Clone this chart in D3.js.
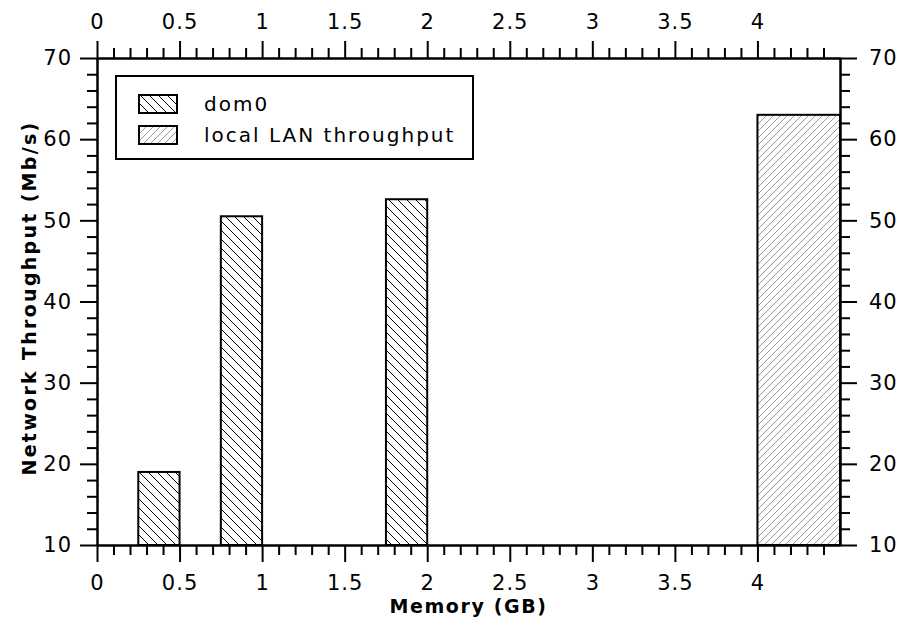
<!DOCTYPE html>
<html>
<head>
<meta charset="utf-8">
<script src="https://cdn.jsdelivr.net/npm/d3@7"></script>
<style>
  body { margin: 0; background: #fff; }
  text { font-family: "DejaVu Sans", sans-serif; fill: #000; }
  .axis path, .axis line { stroke: #000; stroke-width: 2; }
  .title { font-size: 19px; font-weight: bold; letter-spacing: 1.6px; }
</style>
</head>
<body>
<div id="viz"></div>
<script>
// data
var seriesNames = ["dom0", "local LAN throughput"];
var dom0Left = [0.25, 0.75, 1.75];
var dom0Right = [0.5, 1, 2];
var dom0Values = [19, 50.5, 52.6];
var lanLeft = [4];
var lanRight = [4.5];
var lanValues = [63];
var xMajorTicks = [0, 0.5, 1, 1.5, 2, 2.5, 3, 3.5, 4];
var yMajorTicks = [10, 20, 30, 40, 50, 60, 70];

var width = 900, height = 625;
var m = {left: 97, right: 60, top: 58, bottom: 80};

var svg = d3.select("#viz").append("svg").attr("width", width).attr("height", height);

var x = d3.scaleLinear().domain([0, 4.5]).range([m.left, width - m.right]);
var y = d3.scaleLinear().domain([10, 70]).range([height - m.bottom, m.top]);

var xMinor = d3.range(0, 45).map(function(i){ return i / 10; }).filter(function(v){ return Math.round(v * 10) % 5 != 0; });
var yMinor = d3.range(10, 70, 2).filter(function(v){ return v % 10 != 0; });

// hatch patterns
var defs = svg.append("defs");
defs.append("pattern")
    .attr("id", "hatch-dom0")
    .attr("patternUnits", "userSpaceOnUse")
    .attr("width", 9).attr("height", 9)
  .append("path")
    .attr("d", "M0,0 L9,9 M-9,0 L0,9 M9,0 L18,9 M0,-9 L9,0 M0,9 L9,18")
    .attr("stroke", "#000").attr("stroke-width", 1);
defs.append("pattern")
    .attr("id", "hatch-lan")
    .attr("patternUnits", "userSpaceOnUse")
    .attr("width", 7).attr("height", 7)
  .append("path")
    .attr("d", "M0,7 L7,0 M-7,7 L0,0 M7,7 L14,0 M0,14 L7,7 M0,0 L7,-7")
    .attr("stroke", "#9a9a9a").attr("stroke-width", 1);

// bars
var dom0 = dom0Values.map(function(v, i){ return {x0: dom0Left[i], x1: dom0Right[i], v: v}; });
var lan = lanValues.map(function(v, i){ return {x0: lanLeft[i], x1: lanRight[i], v: v}; });

function drawBars(data, fill){
  svg.append("g").selectAll("rect")
    .data(data)
    .enter().append("rect")
      .attr("x", function(d){ return x(d.x0); })
      .attr("y", function(d){ return y(d.v); })
      .attr("width", function(d){ return x(d.x1) - x(d.x0); })
      .attr("height", function(d){ return y(10) - y(d.v); })
      .attr("fill", fill)
      .attr("stroke", "#000")
      .attr("stroke-width", 2);
}
drawBars(dom0, "url(#hatch-dom0)");
drawBars(lan, "url(#hatch-lan)");

// axes: minor ticks first, then major with labels
function addAxis(axis, tr){
  return svg.append("g").attr("class", "axis").attr("transform", tr).call(axis);
}
var fmt = function(d){ return d3.format("~g")(d); };

addAxis(d3.axisBottom(x).tickValues(xMinor).tickSize(10).tickSizeOuter(0).tickFormat(""), "translate(0," + y(10) + ")");
addAxis(d3.axisTop(x).tickValues(xMinor).tickSize(10).tickSizeOuter(0).tickFormat(""), "translate(0," + y(70) + ")");
addAxis(d3.axisLeft(y).tickValues(yMinor).tickSize(10).tickSizeOuter(0).tickFormat(""), "translate(" + x(0) + ",0)");
addAxis(d3.axisRight(y).tickValues(yMinor).tickSize(10).tickSizeOuter(0).tickFormat(""), "translate(" + x(4.5) + ",0)");

addAxis(d3.axisBottom(x).tickValues(xMajorTicks).tickSize(17).tickSizeOuter(0).tickPadding(13).tickFormat(fmt), "translate(0," + y(10) + ")");
addAxis(d3.axisTop(x).tickValues(xMajorTicks).tickSize(17).tickSizeOuter(0).tickPadding(12).tickFormat(fmt), "translate(0," + y(70) + ")");
addAxis(d3.axisLeft(y).tickValues(yMajorTicks).tickSize(17).tickSizeOuter(0).tickPadding(8).tickFormat(fmt), "translate(" + x(0) + ",0)");
addAxis(d3.axisRight(y).tickValues(yMajorTicks).tickSize(17).tickSizeOuter(0).tickPadding(12).tickFormat(fmt), "translate(" + x(4.5) + ",0)");

svg.selectAll(".axis").attr("font-family", null).attr("font-size", null);
svg.selectAll(".tick text")
    .style("font-family", "'DejaVu Sans', sans-serif")
    .style("font-size", "21px")
    .style("letter-spacing", "1px");

// axis titles
svg.append("text")
    .attr("class", "title")
    .attr("x", (x(0) + x(4.5)) / 2)
    .attr("y", 613)
    .attr("text-anchor", "middle")
    .text("Memory (GB)");

svg.append("text")
    .attr("class", "title")
    .attr("transform", "translate(36,298) rotate(-90)")
    .attr("text-anchor", "middle")
    .style("letter-spacing", "2.3px")
    .text("Network Throughput (Mb/s)");

// legend
var legend = svg.append("g");
legend.append("rect")
    .attr("x", 116).attr("y", 76)
    .attr("width", 357).attr("height", 83)
    .attr("fill", "#fff").attr("stroke", "#000").attr("stroke-width", 2);

var fills = ["url(#hatch-dom0)", "url(#hatch-lan)"];
seriesNames.forEach(function(name, i){
  var yy = 95 + i * 31;
  legend.append("rect")
      .attr("x", 139).attr("y", yy)
      .attr("width", 38).attr("height", 18)
      .attr("fill", fills[i]).attr("stroke", "#000").attr("stroke-width", 2);
  legend.append("text")
      .attr("x", 204).attr("y", yy + 16)
      .style("font-size", "20px")
      .style("letter-spacing", "2px")
      .text(name);
});
</script>
</body>
</html>
